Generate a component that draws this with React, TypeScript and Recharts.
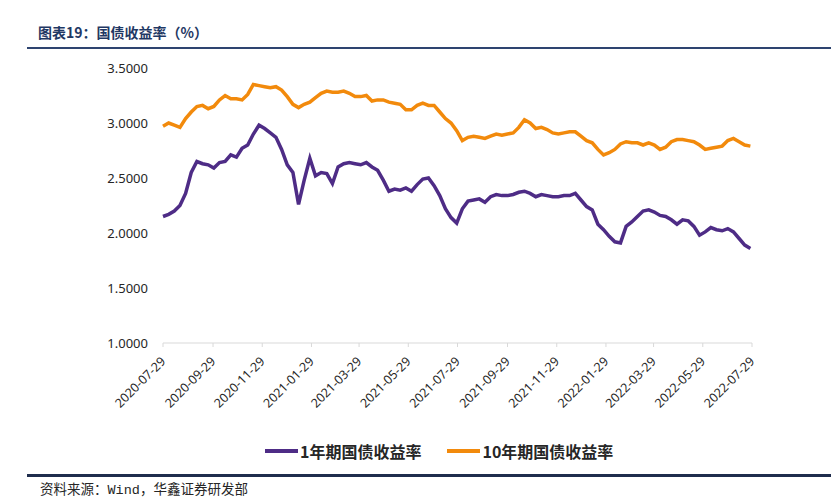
import React from "react";
import { LineChart, Line, XAxis, YAxis } from "recharts";

// weekly samples starting 2020-07-29
const START = "2020-07-29";

const ONE_YEAR = [
  2.15, 2.17, 2.2, 2.25, 2.36, 2.55, 2.65, 2.63, 2.62, 2.59,
  2.64, 2.65, 2.71, 2.69, 2.77, 2.8, 2.9, 2.98, 2.95, 2.91,
  2.87, 2.76, 2.62, 2.55, 2.26, 2.48, 2.68, 2.52, 2.55, 2.54,
  2.45, 2.6, 2.63, 2.64, 2.63, 2.62, 2.64, 2.6, 2.57, 2.48,
  2.38, 2.4, 2.39, 2.41, 2.38, 2.44, 2.49, 2.5, 2.43, 2.34,
  2.22, 2.14, 2.09, 2.22, 2.29, 2.3, 2.31, 2.28, 2.33, 2.35,
  2.34, 2.34, 2.35, 2.37, 2.38, 2.36, 2.33, 2.35, 2.34, 2.33,
  2.33, 2.34, 2.34, 2.36, 2.3, 2.24, 2.21, 2.08, 2.03, 1.97,
  1.92, 1.91, 2.06, 2.1, 2.15, 2.2, 2.21, 2.19, 2.16, 2.15,
  2.12, 2.08, 2.12, 2.11, 2.06, 1.98, 2.01, 2.05, 2.03, 2.02,
  2.04, 2.01, 1.95, 1.89, 1.86,
];

const TEN_YEAR = [
  2.97, 3.0, 2.98, 2.96, 3.04, 3.1, 3.15, 3.16, 3.13, 3.15,
  3.21, 3.25, 3.22, 3.22, 3.21, 3.26, 3.35, 3.34, 3.33, 3.32,
  3.33, 3.3, 3.24, 3.17, 3.14, 3.17, 3.19, 3.23, 3.27, 3.29,
  3.28, 3.28, 3.29, 3.27, 3.24, 3.24, 3.25, 3.2, 3.21, 3.21,
  3.19, 3.18, 3.17, 3.12, 3.12, 3.16, 3.18, 3.16, 3.16, 3.1,
  3.04, 3.0, 2.93, 2.84, 2.87, 2.88, 2.87, 2.86, 2.88, 2.9,
  2.89, 2.9, 2.91, 2.96, 3.03, 3.0, 2.95, 2.96, 2.94, 2.91,
  2.9, 2.91, 2.92, 2.92, 2.88, 2.84, 2.82, 2.76, 2.71, 2.73,
  2.76, 2.81, 2.83, 2.82, 2.82, 2.8, 2.82, 2.8, 2.76, 2.78,
  2.83, 2.85, 2.85, 2.84, 2.83, 2.8, 2.76, 2.77, 2.78, 2.79,
  2.84, 2.86, 2.83, 2.8, 2.79,
];

const X_TICKS = [
  "2020-07-29", "2020-09-29", "2020-11-29", "2021-01-29", "2021-03-29",
  "2021-05-29", "2021-07-29", "2021-09-29", "2021-11-29", "2022-01-29",
  "2022-03-29", "2022-05-29", "2022-07-29",
];

const Y_TICKS = [1.0, 1.5, 2.0, 2.5, 3.0, 3.5];

const SERIES = [
  { key: "y1", name: "1年期国债收益率", color: "#4e2c86" },
  { key: "y10", name: "10年期国债收益率", color: "#f28a0c" },
];

const DAY = 86400000;
const dayOf = (s: string) => Math.round((Date.parse(s) - Date.parse(START)) / DAY);

const data = ONE_YEAR.map((v, i) => ({ day: i * 7, y1: v, y10: TEN_YEAR[i] }));
const tickDays = X_TICKS.map(dayOf);
const labelOf: Record<number, string> = {};
X_TICKS.forEach((s) => (labelOf[dayOf(s)] = s));

const NAVY = "#1f3864";

export default function App() {
  return (
    <div style={{ position: "absolute", left: 0, top: 0, width: 831, height: 500, background: "#fff", overflow: "hidden" }}>
      <div
        style={{
          position: "absolute", left: 38, top: 22, fontFamily: "'Noto Sans CJK SC', sans-serif",
          fontSize: 14, fontWeight: 700, color: NAVY, whiteSpace: "nowrap",
        }}
      >
        图表19：国债收益率（%）
      </div>
      <div style={{ position: "absolute", left: 27, top: 47, width: 804, height: 2, background: "#2e4470" }} />

      <div style={{ position: "absolute", left: 0, top: 0 }}>
        <LineChart width={831} height={440} data={data} margin={{ top: 68, right: 79, left: 0, bottom: 0 }}>
          <XAxis
            dataKey="day"
            type="number"
            domain={[0, tickDays[tickDays.length - 1]]}
            ticks={tickDays}
            tickFormatter={(d: number) => labelOf[d] ?? ""}
            height={97}
            angle={-45}
            textAnchor="end"
            interval={0}
            tickSize={4}
            tickMargin={9}
            stroke="#d9d9d9"
            tick={{ fill: "#262626", fontSize: 12.5, fontFamily: "'Noto Sans', sans-serif", dx: -3 }}
          />
          <YAxis
            type="number"
            domain={[1, 3.5]}
            ticks={Y_TICKS}
            tickFormatter={(v: number) => v.toFixed(4)}
            width={163}
            axisLine={false}
            tickLine={false}
            tickSize={6}
            tickMargin={9}
            tick={{ fill: "#262626", fontSize: 13, fontFamily: "'Noto Sans', sans-serif" }}
          />
          {SERIES.map((s) => (
            <Line
              key={s.key}
              type="linear"
              dataKey={s.key}
              name={s.name}
              stroke={s.color}
              strokeWidth={3.5}
              dot={false}
              isAnimationActive={false}
            />
          ))}
        </LineChart>
      </div>

      <div
        style={{
          position: "absolute", left: 265, top: 439, display: "flex", alignItems: "center",
          fontFamily: "'Noto Sans CJK SC', sans-serif", fontSize: 16, fontWeight: 700, color: "#262626",
        }}
      >
        {SERIES.map((s, i) => (
          <div key={s.key} style={{ display: "flex", alignItems: "center", marginLeft: i ? 26 : 0 }}>
            <div style={{ width: 33, height: 4, background: s.color, marginRight: 2 }} />
            <span style={{ whiteSpace: "nowrap" }}>{s.name}</span>
          </div>
        ))}
      </div>

      <div style={{ position: "absolute", left: 27, top: 474, width: 804, height: 3, background: "#1f2d4d" }} />
      <div
        style={{
          position: "absolute", left: 40, top: 478, fontFamily: "'Liberation Mono', 'Noto Sans CJK SC', monospace",
          fontSize: 13.5, color: "#262626", whiteSpace: "nowrap",
        }}
      >
        资料来源：Wind，华鑫证券研发部
      </div>
    </div>
  );
}
